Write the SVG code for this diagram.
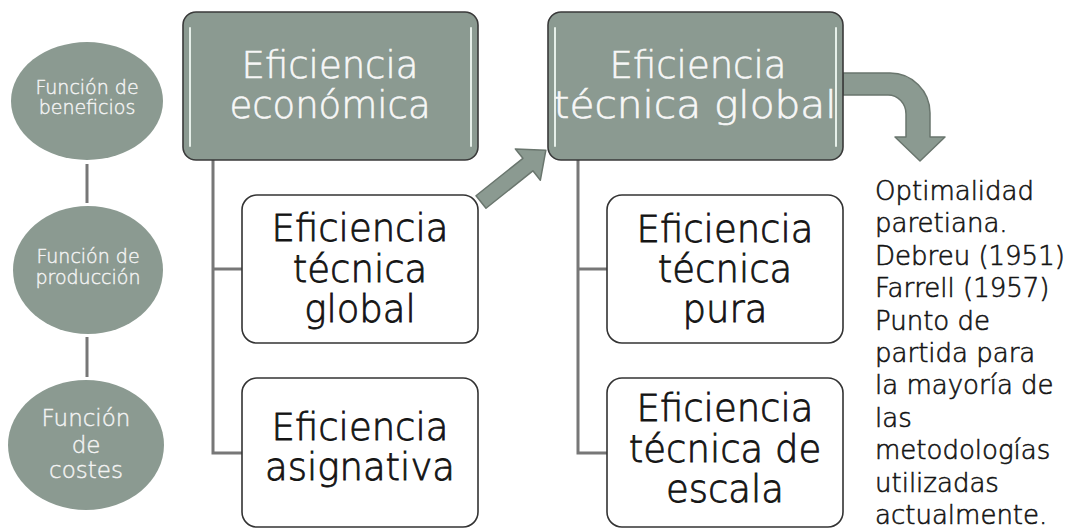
<svg xmlns="http://www.w3.org/2000/svg" width="1075" height="530" viewBox="0 0 1075 530">
<style>
.bg{fill:#ffffff}
.circ{fill:#8b9a91}
.ctxt{font-family:"DejaVu Sans",sans-serif;font-weight:300;fill:#f4f4f4;stroke:#f4f4f4;stroke-width:0.4;text-anchor:middle}
.dark{fill:#8b9a91;stroke:#3a3a3a;stroke-width:1.6}
.hl{stroke:#e6efe9;stroke-width:2;fill:none;stroke-linecap:round}
.white{fill:#ffffff;stroke:#333333;stroke-width:1.6}
.btxt{font-family:"DejaVu Sans",sans-serif;font-weight:300;font-size:37px;text-anchor:middle}
.wt{fill:#f7f7f7;stroke:#f7f7f7;stroke-width:0.6}
.bk{fill:#141414;stroke:#141414;stroke-width:0.8}
.line{stroke:#777777;stroke-width:3;fill:none}
.arrow{fill:#8b9a91;stroke:#6a766e;stroke-width:1.5;stroke-linejoin:round}
.rtxt{font-family:"DejaVu Sans",sans-serif;font-weight:300;font-size:26px;fill:#141414;stroke:#141414;stroke-width:0.6}
</style>
<rect class="bg" x="0" y="0" width="1075" height="530"/>

<g id="connectors">
  <line class="line" x1="87" y1="164" x2="87" y2="203"/>
  <line class="line" x1="87" y1="337" x2="87" y2="377"/>
  <polyline class="line" points="213,160 213,453 242,453"/>
  <line class="line" x1="213" y1="269" x2="242" y2="269"/>
  <polyline class="line" points="578,160 578,453 607,453"/>
  <line class="line" x1="578" y1="269" x2="607" y2="269"/>
  <polygon class="arrow" transform="translate(481,202) rotate(-38.6)" points="0,-8 60,-8 60,-20 83,0 60,20 60,8 0,8"/>
  <path class="arrow" d="M843,73 H890 A40,40 0 0 1 930,113 V137 H945 L920,161 L895,137 H906 V114 A18,19 0 0 0 888,95 H843 Z"/>
</g>

<g id="circle-beneficios">
  <ellipse class="circ" cx="87" cy="101" rx="76" ry="59"/>
  <text class="ctxt" font-size="19" x="87" y="94">Función de</text>
  <text class="ctxt" font-size="19" x="87" y="114">beneficios</text>
</g>
<g id="circle-produccion">
  <ellipse class="circ" cx="88" cy="270" rx="75" ry="64"/>
  <text class="ctxt" font-size="19" x="88" y="263">Función de</text>
  <text class="ctxt" font-size="19" x="88" y="284">producción</text>
</g>
<g id="circle-costes">
  <ellipse class="circ" cx="86" cy="445" rx="78" ry="65"/>
  <text class="ctxt" font-size="23" x="86" y="426">Función</text>
  <text class="ctxt" font-size="23" x="86" y="453">de</text>
  <text class="ctxt" font-size="23" x="86" y="478">costes</text>
</g>

<g id="box-eficiencia-economica">
  <rect class="dark" x="183" y="12" width="295" height="148" rx="13"/>
  <line class="hl" x1="190" y1="28" x2="190" y2="146"/>
  <line class="hl" x1="471" y1="28" x2="471" y2="146"/>
  <text class="btxt wt" x="330" y="78">Eficiencia</text>
  <text class="btxt wt" x="330" y="118">económica</text>
</g>
<g id="box-eficiencia-tecnica-global-top">
  <rect class="dark" x="548" y="12" width="295" height="148" rx="13"/>
  <line class="hl" x1="555" y1="28" x2="555" y2="146"/>
  <line class="hl" x1="836" y1="28" x2="836" y2="146"/>
  <text class="btxt wt" x="698" y="78">Eficiencia</text>
  <text class="btxt wt" x="695" y="118" textLength="283" lengthAdjust="spacingAndGlyphs">técnica global</text>
</g>

<g id="box-tecnica-global">
  <rect class="white" x="242" y="195" width="236" height="148" rx="15"/>
  <text class="btxt bk" x="360" y="241">Eficiencia</text>
  <text class="btxt bk" x="360" y="282">técnica</text>
  <text class="btxt bk" x="360" y="322">global</text>
</g>
<g id="box-asignativa">
  <rect class="white" x="242" y="378" width="236" height="149" rx="15"/>
  <text class="btxt bk" x="360" y="440">Eficiencia</text>
  <text class="btxt bk" x="360" y="480">asignativa</text>
</g>
<g id="box-tecnica-pura">
  <rect class="white" x="607" y="195" width="236" height="148" rx="15"/>
  <text class="btxt bk" x="725" y="242">Eficiencia</text>
  <text class="btxt bk" x="725" y="282">técnica</text>
  <text class="btxt bk" x="725" y="322">pura</text>
</g>
<g id="box-tecnica-escala">
  <rect class="white" x="607" y="378" width="236" height="149" rx="15"/>
  <text class="btxt bk" x="725" y="421">Eficiencia</text>
  <text class="btxt bk" x="725" y="462">técnica de</text>
  <text class="btxt bk" x="725" y="502">escala</text>
</g>

<g id="note">
  <text class="rtxt" x="875" y="200">Optimalidad</text>
  <text class="rtxt" x="875" y="232">paretiana.</text>
  <text class="rtxt" x="875" y="265">Debreu (1951)</text>
  <text class="rtxt" x="875" y="297">Farrell (1957)</text>
  <text class="rtxt" x="875" y="330">Punto de</text>
  <text class="rtxt" x="875" y="362">partida para</text>
  <text class="rtxt" x="875" y="394">la mayoría de</text>
  <text class="rtxt" x="875" y="427">las</text>
  <text class="rtxt" x="875" y="459">metodologías</text>
  <text class="rtxt" x="875" y="492">utilizadas</text>
  <text class="rtxt" x="875" y="524">actualmente.</text>
</g>
</svg>
